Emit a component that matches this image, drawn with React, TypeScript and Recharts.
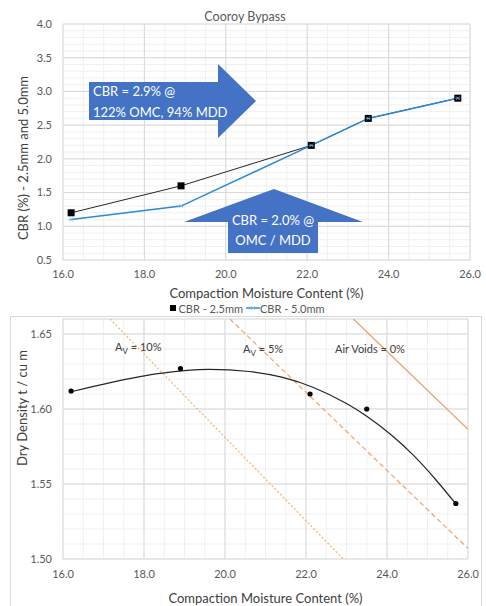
import { LineChart, ComposedChart, Line, XAxis, YAxis, CartesianGrid, Legend, Label } from 'recharts'

// Cooroy Bypass - CBR and compaction curves
const MOISTURE = [16.2, 18.9, 22.1, 23.5, 25.7]
const CBR_25 = [1.2, 1.6, 2.2, 2.6, 2.9]
const CBR_50 = [1.1, 1.3, 2.2, 2.6, 2.9]
const DRY_DENSITY = [1.612, 1.627, 1.61, 1.6, 1.537]

// trendline
const TREND_X = [16.2, 17.2, 18.4, 19.6, 20.6, 21.4, 22.2, 23.0, 23.5, 24.1, 24.65, 25.2, 25.7]
const TREND_Y = [1.6115, 1.6178, 1.6238, 1.6264, 1.625, 1.6212, 1.6142, 1.6036, 1.5952, 1.5828, 1.5692, 1.553, 1.5367]

// air voids lines
const AV10_X = [17.16, 22.92]
const AV10_Y = [1.66, 1.5]
const AV5_X = [20.12, 26.0]
const AV5_Y = [1.66, 1.507]
const AV0_X = [23.17, 26.0]
const AV0_Y = [1.66, 1.5865]

const X_TICKS = [16, 18, 20, 22, 24, 26]
const CBR_TICKS = [0.5, 1.0, 1.5, 2.0, 2.5, 3.0, 3.5, 4.0]
const DD_TICKS = [1.5, 1.55, 1.6, 1.65]

const steps = (from: number, to: number, step: number) => {
  const out: number[] = []
  for (let v = from; v <= to + 1e-9; v += step) out.push(Math.round(v * 1000) / 1000)
  return out
}
const X_MINOR = steps(16, 26, 0.5)
const CBR_MINOR = steps(0.5, 4, 0.1)
const DD_MINOR = steps(1.5, 1.66, 0.01)

const topData = MOISTURE.map((x, i) => ({ x, cbr25: CBR_25[i], cbr50: CBR_50[i] }))
const ddData = MOISTURE.map((x, i) => ({ x, y: DRY_DENSITY[i] }))
const trendData = TREND_X.map((x, i) => ({ x, y: TREND_Y[i] }))
const av10Data = AV10_X.map((x, i) => ({ x, y: AV10_Y[i] }))
const av5Data = AV5_X.map((x, i) => ({ x, y: AV5_Y[i] }))
const av0Data = AV0_X.map((x, i) => ({ x, y: AV0_Y[i] }))

const FONT = 'Lato, "Open Sans", sans-serif'
const TICK = { fontSize: 11, fill: '#595959', fontFamily: FONT }
const BLUE = '#2B8AD6'
const ARROW = '#4472C4'

function SquareDot(props: any) {
  const { cx, cy, index } = props
  if (cx == null || cy == null) return null
  return <rect key={index} x={cx - 3.5} y={cy - 3.5} width={7} height={7} fill="#000" />
}

function StarDot(props: any) {
  const { cx, cy, index } = props
  if (cx == null || cy == null) return null
  return (
    <g key={index} stroke="#6FB1E8" strokeWidth={0.8}>
      <line x1={cx - 2.5} y1={cy} x2={cx + 2.5} y2={cy} />
      <line x1={cx - 1.8} y1={cy - 1.8} x2={cx + 1.8} y2={cy + 1.8} />
      <line x1={cx - 1.8} y1={cy + 1.8} x2={cx + 1.8} y2={cy - 1.8} />
    </g>
  )
}

const yTitle = (x: number, y: number, text: string) => () => (
  <text
    x={x}
    y={y}
    transform={`rotate(-90 ${x} ${y})`}
    textAnchor="middle"
    dominantBaseline="central"
    fontSize={13}
    fill="#404040"
    fontFamily={FONT}
  >
    {text}
  </text>
)

const renderLegend = () => (
  <div
    style={{
      display: 'flex',
      justifyContent: 'center',
      alignItems: 'center',
      height: 16,
      fontSize: 11,
      color: '#595959',
      fontFamily: FONT,
      paddingLeft: 8,
    }}
  >
    <svg width={8} height={8}>
      <rect x={1} y={1} width={6} height={6} fill="#000" />
    </svg>
    <span style={{ marginLeft: 1 }}>CBR - 2.5mm</span>
    <svg width={14} height={8} style={{ marginLeft: 3 }}>
      <line x1={0} y1={4} x2={14} y2={4} stroke={BLUE} strokeWidth={1.5} />
      <StarDot cx={7} cy={4} />
    </svg>
    <span>CBR - 5.0mm</span>
  </div>
)

function Sub({ x, y, pre, post }: { x: number; y: number; pre: string; post: string }) {
  return (
    <text x={x} y={y} fontSize={11} fill="#404040" fontFamily={FONT}>
      {pre}
      <tspan fontSize={8} dy={3}>V</tspan>
      <tspan dy={-3}>{post}</tspan>
    </text>
  )
}

export default function App() {
  return (
    <div style={{ position: 'absolute', left: 0, top: 0, width: 486, height: 606, background: '#fff', overflow: 'hidden' }}>
      <div style={{ position: 'absolute', left: 0, top: 0 }}>
        <LineChart width={486} height={316} data={topData} margin={{ top: 24, right: 16, bottom: 0, left: 0 }}>
          <CartesianGrid stroke="#F0F0F0" verticalValues={X_MINOR} horizontalValues={CBR_MINOR} />
          <CartesianGrid stroke="#D9D9D9" />
          <XAxis
            dataKey="x"
            type="number"
            domain={[16, 26]}
            ticks={X_TICKS}
            tickFormatter={(v) => Number(v).toFixed(1)}
            axisLine={false}
            tickLine={false}
            tickSize={0}
            tickMargin={10}
            height={40}
            tick={TICK}
            interval={0}
          >
            <Label value="Compaction Moisture Content (%)" position="insideBottom" offset={2} fontSize={13} fill="#404040" fontFamily={FONT} />
          </XAxis>
          <YAxis
            type="number"
            domain={[0.5, 4]}
            ticks={CBR_TICKS}
            tickFormatter={(v) => Number(v).toFixed(1)}
            axisLine={false}
            tickLine={false}
            tickSize={0}
            tickMargin={11}
            width={63}
            tick={TICK}
            interval={0}
            label={{ content: yTitle(23, 158, 'CBR (%) - 2.5mm and 5.0mm') }}
          />
          <Legend content={renderLegend} verticalAlign="bottom" height={16} wrapperStyle={{ left: 0, width: 486 }} />
          <Line dataKey="cbr25" stroke="#262626" strokeWidth={1} dot={<SquareDot />} activeDot={false} isAnimationActive={false} />
          <Line dataKey="cbr50" stroke={BLUE} strokeWidth={1.5} dot={<StarDot />} activeDot={false} isAnimationActive={false} />
        </LineChart>
        <svg width={486} height={316} style={{ position: 'absolute', left: 0, top: 0, pointerEvents: 'none' }}>
          <text x={245} y={21} textAnchor="middle" fontSize={12.5} fill="#595959" fontFamily={FONT}>
            Cooroy Bypass
          </text>
          <polygon points="89,82 218,82 218,64 256,101 218,138 218,120 89,120" fill={ARROW} />
          <text x={93} y={96} fontSize={13} fill="#fff" fontFamily={FONT}>CBR = 2.9% @</text>
          <text x={93} y={117} fontSize={13} fill="#fff" fontFamily={FONT}>122% OMC, 94% MDD</text>
          <polygon points="274,189 363,222 318,222 318,253 228,253 228,222 184,222" fill={ARROW} />
          <text x={273} y={225} textAnchor="middle" fontSize={13} fill="#fff" fontFamily={FONT}>CBR = 2.0% @</text>
          <text x={273} y={245} textAnchor="middle" fontSize={13} fill="#fff" fontFamily={FONT}>OMC / MDD</text>
        </svg>
      </div>

      <div style={{ position: 'absolute', left: 0, top: 316 }}>
        <div style={{ position: 'absolute', left: 10, top: 0, width: 472, height: 300, border: '1px solid #D9D9D9', boxSizing: 'border-box' }} />
        <ComposedChart width={486} height={290} margin={{ top: 3, right: 18, bottom: 0, left: 0 }}>
          <CartesianGrid stroke="#F0F0F0" verticalValues={X_MINOR} horizontalValues={DD_MINOR} />
          <CartesianGrid stroke="#D9D9D9" />
          <XAxis
            dataKey="x"
            type="number"
            domain={[16, 26]}
            ticks={X_TICKS}
            tickFormatter={(v) => Number(v).toFixed(1)}
            axisLine={false}
            tickLine={false}
            tickSize={0}
            tickMargin={11}
            height={47}
            tick={TICK}
            interval={0}
            allowDataOverflow
          >
            <Label value="Compaction Moisture Content (%)" position="insideBottom" offset={3} fontSize={13} fill="#404040" fontFamily={FONT} />
          </XAxis>
          <YAxis
            dataKey="y"
            type="number"
            domain={[1.5, 1.66]}
            ticks={DD_TICKS}
            tickFormatter={(v) => Number(v).toFixed(2)}
            axisLine={false}
            tickLine={false}
            tickSize={0}
            tickMargin={11}
            width={63}
            tick={TICK}
            interval={0}
            allowDataOverflow
            label={{ content: yTitle(22, 92, 'Dry Density t / cu m') }}
          />
          <Line data={av10Data} dataKey="y" stroke="#F6B26B" strokeWidth={1.2} strokeDasharray="2 2" dot={false} activeDot={false} isAnimationActive={false} />
          <Line data={av5Data} dataKey="y" stroke="#F2A46E" strokeWidth={1.2} strokeDasharray="5 3" dot={false} activeDot={false} isAnimationActive={false} />
          <Line data={av0Data} dataKey="y" stroke="#EE9B66" strokeWidth={1.2} dot={false} activeDot={false} isAnimationActive={false} />
          <Line data={trendData} dataKey="y" type="monotone" stroke="#262626" strokeWidth={1.2} dot={false} activeDot={false} isAnimationActive={false} />
          <Line data={ddData} dataKey="y" stroke="none" dot={{ r: 2.6, fill: '#000', stroke: 'none' }} activeDot={false} isAnimationActive={false} />
        </ComposedChart>
        <svg width={486} height={290} style={{ position: 'absolute', left: 0, top: 0, pointerEvents: 'none' }}>
          <Sub x={115} y={35} pre="A" post=" = 10%" />
          <Sub x={243} y={37} pre="A" post=" = 5%" />
          <text x={335} y={37} fontSize={11} fill="#404040" fontFamily={FONT}>Air Voids = 0%</text>
        </svg>
      </div>
    </div>
  )
}
